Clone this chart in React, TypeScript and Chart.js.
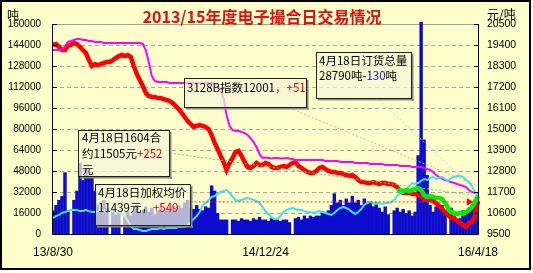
import { useEffect, useRef } from 'react';
import { Chart, registerables } from 'chart.js';

Chart.register(...registerables);

// ---- categories (trading-day slots) and axis labels ----
const dayCount = 143;
const axisDates = ['13/8/30', '14/12/24', '16/4/18'];
const axisDateSlots = [0, 71, 142];
const dayLabels: string[] = Array.from({ length: dayCount }, (_, i) => {
  const k = axisDateSlots.indexOf(i);
  return k >= 0 ? axisDates[k] : '';
});

// ---- daily volume (吨, left axis) ----
const volumeTons = [
  18000, 22000, 26000, 29000, 47000, 18000, 0, 26000, 33000, 54000,
  41000, 50000, 43000, 43000, 33000, 22000, 18000, 26000, 20000, 0,
  17000, 15000, 17000, 0, 14000, 17000, 14000, 18000, 22000, 17000,
  18000, 21000, 17000, 20000, 15000, 18000, 20000, 17000, 20000, 18000,
  21000, 19000, 22000, 20000, 24000, 26000, 20000, 19000, 22000, 19000,
  18000, 21000, 20000, 37000, 33000, 16000, 11000, 11000, 11000, 0,
  11000, 11000, 10000, 12000, 11000, 11000, 10000, 12000, 11000, 13000,
  11000, 11000, 10000, 12000, 11000, 11000, 10000, 11000, 11000, 9000,
  0, 12000, 13000, 11000, 14000, 12000, 14000, 13000, 14000, 14000,
  17000, 16000, 18000, 22000, 31000, 24000, 26000, 22000, 27000, 24000,
  29000, 24000, 26000, 22000, 27000, 23000, 25000, 21000, 24000, 20000,
  17000, 21000, 15000, 0, 18000, 20000, 17000, 19000, 16000, 18000,
  14000, 17000, 60000, 175000, 72000, 45000, 22000, 17000, 21000, 20000,
  22000, 18000, 0, 20000, 14000, 11000, 12000, 18000, 17000, 20000,
  22000, 26000, 27000,
];

// ---- 3128B index (元/吨, right axis) ----
const index3128B = [
  19400, 19450, 19300, 19140, 19140, 19350, 19400, 19500, 19450, 19300,
  19140, 18980, 18610, 18300, 18400, 18350, 18400, 18460, 18510, 18510,
  18610, 18720, 18820, 18880, 18820, 18880, 18770, 18300, 17880, 17570,
  17250, 16890, 16730, 16680, 16680, 16620, 16620, 16570, 16520, 16470,
  16360, 16200, 16050, 15840, 15630, 15420, 15260, 15100, 15160, 15210,
  15160, 15100, 15000, 14690, 14270, 13950, 13590, 13270, 12850, 13220,
  13480, 13800, 13850, 13590, 13270, 13010, 12960, 13060, 13220, 13110,
  13110, 13220, 13170, 13010, 12960, 12960, 13010, 13060, 13010, 13110,
  13220, 13270, 13060, 12960, 12850, 12750, 12700, 12700, 12800, 12960,
  13010, 12900, 12800, 12750, 12750, 12700, 12700, 12640, 12590, 12540,
  12590, 12490, 12330, 12220, 12220, 12170, 12170, 12220, 12170, 12120,
  12170, 12170, 12120, 12120, 12070, 11960, 11750, 11650, 11650, 11650,
  11600, 11600, 11540, 11490, 11330, 11280, 11280, 11230, 11120, 10970,
  10810, 10650, 10500, 10340, 10340, 10180, 10080, 9970, 9870, 10080,
  10130, 10440, 11230,
];

// ---- order total (吨, left axis) ----
const orderTotalTons = [
  140200, 140200, 140200, 140200, 143200, 146300, 147000, 147800, 148600, 148600,
  147800, 147800, 147000, 147000, 146300, 146300, 146300, 145500, 145500, 145500,
  145500, 145500, 145500, 145500, 145500, 145500, 145500, 145500, 145500, 145500,
  144800, 140200, 131000, 120400, 116600, 115800, 115800, 115800, 115800, 115000,
  115000, 115000, 115000, 115000, 115000, 115000, 115000, 115000, 115000, 115000,
  115000, 115000, 115000, 115000, 114300, 112800, 109700, 103600, 90700, 82300,
  79200, 78500, 78500, 77700, 77000, 75400, 73100, 70100, 66300, 61000,
  57900, 58200, 57900, 57600, 57900, 57900, 57600, 57600, 57900, 57600,
  57100, 56400, 56400, 56400, 56400, 56400, 56400, 56400, 56400, 56400,
  56400, 55600, 55600, 55600, 55600, 55600, 54900, 54900, 54900, 54900,
  54900, 54100, 54100, 54100, 54100, 54100, 53300, 53300, 53300, 53300,
  53300, 52600, 52600, 52600, 52600, 52600, 51800, 51800, 51800, 51800,
  51000, 51000, 51000, 51000, 50300, 49500, 48800, 47200, 44900, 43400,
  42000, 41100, 40400, 39600, 38900, 38100, 37300, 36600, 35800, 33500,
  32000, 31200, 31200,
];

// ---- weighted average price (元/吨, right axis) ----
const weightedAvgPrice = [
  10340, 10440, 10500, 10600, 10650, 10700, 10760, 10760, 10760, 10700,
  10700, 10760, 10700, 10650, 10650, 10700, 10760, 10700, 10700, 10760,
  10700, 10650, 10650, 10600, 10440, 10180, 9920, 9760, 9760, 9710,
  9660, 9660, 9710, 9760, 9760, 9760, 9810, 9760, 9810, 9810,
  9810, 9810, 9870, 9870, 9870, 9970, 10130, 10290, 10440, 10650,
  11020, 11120, 11280, 11440, 11490, 11600, 11700, 11750, 11800, 11650,
  11440, 11280, 11230, 11280, 11330, 11390, 11330, 11280, 11230, 11120,
  10910, 10700, 10550, 10390, 10290, 10290, 10440, 10650, 10760, 10810,
  10860, 10810, 10760, 10760, 10700, 10650, 10650, 10600, 10650, 10700,
  10650, 10600, 10550, 10500, 10600, 10760, 10860, 10910, 10860, 10760,
  10650, 10550, 10650, 10810, 11020, 11120, 11180, 11120, 11070, 11120,
  11070, 11120, 11120, 11180, 11280, 11490, 11650, 11650, 11800, 12010,
  12170, 12120, 12170, 12280, 12380, 12330, 12430, 12490, 12380, 12430,
  12490, 12380, 12280, 12430, 12490, 12540, 12540, 12490, 12330, 12220,
  12010, 11700, 11490,
];

// ---- 1604 contract (元/吨, right axis), starts at slot 115 ----
const contract1604Start = 115;
const contract1604Values = [
  11750, 11800, 11750, 11800, 11750, 11800, 11860, 11910, 11800, 11540,
  11440, 11490, 11440, 11390, 11390, 11330, 11120, 10860, 10650, 10600,
  10550, 10600, 10550, 10650, 10760, 10910, 11180, 11490,
];

// ---- leader lines from the note boxes: [slot, value] pairs ----
const leader1604: [number, number][] = [[39, 13740], [142, 11490]];
const leader3128B: [number, number][] = [[79, 16100], [142, 12010]];
const leaderOrder: [number, number][] = [[109, 102100], [142, 31240]];
const leaderAvg: [number, number][] = [[46, 11180], [139, 11180]];

const tonAxis = { min: 0, max: 160000, step: 16000 };
const priceAxis = { min: 9500, max: 20500, step: 1100 };

const sparse = (pts: [number, number][]) => {
  const arr: (number | null)[] = new Array(dayCount).fill(null);
  pts.forEach(([i, v]) => { arr[i] = v; });
  return arr;
};

const contract1604: (number | null)[] = new Array(dayCount).fill(null);
contract1604Values.forEach((v, k) => { contract1604[contract1604Start + k] = v; });

const CJK = '"Noto Sans CJK SC", "Noto Sans", sans-serif';
const LATIN = '"Liberation Sans", Arial, sans-serif';

type Part = [string, string];
function rich(ctx: CanvasRenderingContext2D, x: number, y: number, parts: Part[]) {
  let cx = x;
  for (const [t, c] of parts) {
    ctx.fillStyle = c;
    ctx.fillText(t, cx, y);
    cx += ctx.measureText(t).width;
  }
}

function noteBox(ctx: CanvasRenderingContext2D, x: number, y: number, w: number, h: number) {
  ctx.fillStyle = 'rgba(245,245,215,0.72)';
  ctx.fillRect(x, y, w, h);
  ctx.fillStyle = '#8a8a80';
  ctx.fillRect(x + w, y + 2, 1.5, h);
  ctx.fillRect(x + 2, y + h, w, 1.5);
  ctx.strokeStyle = '#202020';
  ctx.lineWidth = 1;
  ctx.strokeRect(x + 0.5, y + 0.5, w - 1, h - 1);
}

const RED = '#E00000';
const BLK = '#000000';

const decor = {
  id: 'decor',
  beforeDraw(chart: any) {
    const ctx: CanvasRenderingContext2D = chart.ctx;
    ctx.save();
    ctx.fillStyle = '#ffffff';
    ctx.fillRect(0, 0, chart.width, chart.height);
    ctx.fillStyle = '#FFFFCC';
    ctx.fillRect(0, 0, 531, 270);
    ctx.strokeStyle = '#000';
    ctx.lineWidth = 2;
    ctx.strokeRect(1, 1, 529, 268);
    ctx.restore();
  },
  beforeDatasetsDraw(chart: any) {
    const ctx: CanvasRenderingContext2D = chart.ctx;
    const a = chart.chartArea;
    const ys = chart.scales.yTon;
    ctx.save();
    ctx.lineWidth = 1;
    ctx.strokeStyle = '#A8A8A0';
    ctx.setLineDash([4, 3]);
    ys.ticks.forEach((t: any) => {
      if (t.value === tonAxis.min || t.value === tonAxis.max) return;
      const py = Math.round(ys.getPixelForValue(t.value)) + 0.5;
      ctx.beginPath();
      ctx.moveTo(a.left, py);
      ctx.lineTo(a.right, py);
      ctx.stroke();
    });
    ctx.setLineDash([]);
    ctx.strokeStyle = '#A0A0A0';
    ctx.beginPath();
    ctx.moveTo(a.left, a.top + 0.5);
    ctx.lineTo(a.right, a.top + 0.5);
    ctx.stroke();
    ctx.restore();
  },
  afterDatasetsDraw(chart: any) {
    const ctx: CanvasRenderingContext2D = chart.ctx;
    const a = chart.chartArea;
    const ys = chart.scales.yTon;
    const yp = chart.scales.yPrice;
    ctx.save();
    // axis lines
    ctx.strokeStyle = '#000';
    ctx.lineWidth = 1;
    ctx.beginPath();
    ctx.moveTo(a.left - 0.5, a.top);
    ctx.lineTo(a.left - 0.5, a.bottom + 0.5);
    ctx.lineTo(a.right + 0.5, a.bottom + 0.5);
    ctx.lineTo(a.right + 0.5, a.top);
    ctx.stroke();
    // inward tick marks
    ys.ticks.forEach((t: any) => {
      const py = Math.round(ys.getPixelForValue(t.value)) + 0.5;
      ctx.beginPath();
      ctx.moveTo(a.left - 0.5, py);
      ctx.lineTo(a.left + 4, py);
      ctx.stroke();
    });
    yp.ticks.forEach((t: any) => {
      const py = Math.round(yp.getPixelForValue(t.value)) + 0.5;
      ctx.beginPath();
      ctx.moveTo(a.right + 0.5, py);
      ctx.lineTo(a.right - 4, py);
      ctx.stroke();
    });

    // note boxes
    ctx.textBaseline = 'middle';
    ctx.textAlign = 'left';
    ctx.font = `11.5px ${CJK}`;

    noteBox(ctx, 78, 130, 92, 47);
    rich(ctx, 82, 138, [['4月18日1604合', BLK]]);
    rich(ctx, 82, 154, [['约11505元', BLK], ['+252', RED]]);
    rich(ctx, 82, 170, [['元', BLK]]);

    noteBox(ctx, 95, 184, 96, 42);
    rich(ctx, 98, 193, [['4月18日加权均价', BLK]]);
    rich(ctx, 98, 208, [['11439元，', BLK], ['+549', RED]]);

    noteBox(ctx, 184, 78, 123, 30);
    rich(ctx, 187, 88, [['3128B指数12001', BLK], ['，+51', RED]]);

    noteBox(ctx, 316, 52, 96, 47);
    rich(ctx, 319, 61, [['4月18日订货总量', BLK]]);
    rich(ctx, 319, 76, [['28790吨', BLK], ['-', BLK], ['130', '#1010A0'], ['吨', BLK]]);

    // title and units
    ctx.font = `bold 16px ${CJK}`;
    ctx.fillStyle = '#E01010';
    ctx.textAlign = 'center';
    ctx.fillText('2013/15年度电子撮合日交易情况', 262, 17);
    ctx.font = `12px ${CJK}`;
    ctx.fillStyle = '#000';
    ctx.textAlign = 'left';
    ctx.fillText('吨', 7, 15);
    ctx.fillText('元/吨', 487, 14);
    ctx.restore();
  },
};

export default function App() {
  const ref = useRef<HTMLCanvasElement | null>(null);
  useEffect(() => {
    document.body.style.margin = '0';
    const canvas = ref.current;
    if (!canvas) return;
    const dotted = (data: (number | null)[], color: string, axis: string, extra: any = {}) => ({
      type: 'line' as const,
      data,
      yAxisID: axis,
      borderColor: color,
      borderWidth: 1,
      borderDash: [2, 2],
      pointRadius: 0,
      spanGaps: true,
      tension: 0,
      order: 0,
      ...extra,
    });
    const chart = new Chart(canvas, {
      type: 'bar',
      data: {
        labels: dayLabels,
        datasets: [
          dotted(sparse(leader1604), '#70C870', 'yPrice'),
          dotted(sparse(leader3128B), '#E8A0A0', 'yPrice'),
          dotted(sparse(leaderOrder), '#90E0E0', 'yTon'),
          dotted(sparse(leaderAvg), '#FF2020', 'yPrice', {
            pointRadius: (c: any) => (c.dataIndex === leaderAvg[1][0] ? 3.5 : 0),
            pointStyle: 'triangle',
            rotation: 90,
            pointBackgroundColor: '#FF0000',
            pointBorderColor: '#FF0000',
          }),
          {
            type: 'line' as const,
            data: contract1604,
            yAxisID: 'yPrice',
            borderColor: '#00EE00',
            borderWidth: 4.5,
            pointRadius: 0,
            tension: 0,
            order: 1,
          },
          {
            type: 'line' as const,
            data: weightedAvgPrice,
            yAxisID: 'yPrice',
            borderColor: '#40E0EE',
            borderWidth: 2,
            pointRadius: 0,
            tension: 0,
            order: 2,
          },
          {
            type: 'line' as const,
            data: orderTotalTons,
            yAxisID: 'yTon',
            borderColor: '#FF00FF',
            borderWidth: 2,
            pointRadius: 0,
            tension: 0,
            order: 3,
          },
          {
            type: 'line' as const,
            data: index3128B,
            yAxisID: 'yPrice',
            borderColor: '#FF0000',
            borderWidth: 4.5,
            pointRadius: 0,
            tension: 0,
            order: 4,
          },
          {
            type: 'bar' as const,
            data: volumeTons,
            yAxisID: 'yTon',
            backgroundColor: '#0C0CCC',
            borderWidth: 0,
            barPercentage: 1.15,
            categoryPercentage: 1,
            order: 10,
            clip: { left: 0, top: 2, right: 0, bottom: 0 },
          },
        ] as any,
      },
      options: {
        responsive: false,
        maintainAspectRatio: false,
        devicePixelRatio: 1,
        animation: false,
        events: [],
        layout: { padding: { left: 0, right: 0, top: 24, bottom: 0 } },
        plugins: { legend: { display: false }, tooltip: { enabled: false }, title: { display: false } },
        scales: {
          x: {
            type: 'category',
            offset: false,
            grid: { display: false, drawTicks: false },
            border: { display: false },
            ticks: {
              autoSkip: false,
              maxRotation: 0,
              minRotation: 0,
              padding: 11,
              color: '#000',
              font: { size: 12, family: LATIN },
            },
            afterFit: (s: any) => { s.height = 39; },
          },
          yTon: {
            type: 'linear',
            position: 'left',
            min: tonAxis.min,
            max: tonAxis.max,
            grid: { display: false, drawTicks: false },
            border: { display: false },
            ticks: {
              stepSize: tonAxis.step,
              padding: 12,
              color: '#000',
              font: { size: 10, family: LATIN },
              callback: (v: any) => String(v),
            },
            afterFit: (s: any) => { s.width = 53; },
          },
          yPrice: {
            type: 'linear',
            position: 'right',
            min: priceAxis.min,
            max: priceAxis.max,
            grid: { display: false, drawTicks: false },
            border: { display: false },
            ticks: {
              stepSize: priceAxis.step,
              padding: 9,
              color: '#000',
              font: { size: 10.5, family: LATIN },
              callback: (v: any) => String(v),
            },
            afterFit: (s: any) => { s.width = 55; },
          },
        },
      } as any,
      plugins: [decor],
    });
    return () => chart.destroy();
  }, []);
  return (
    <canvas
      ref={ref}
      width={533}
      height={273}
      style={{ display: 'block', width: 533, height: 273 }}
    />
  );
}
